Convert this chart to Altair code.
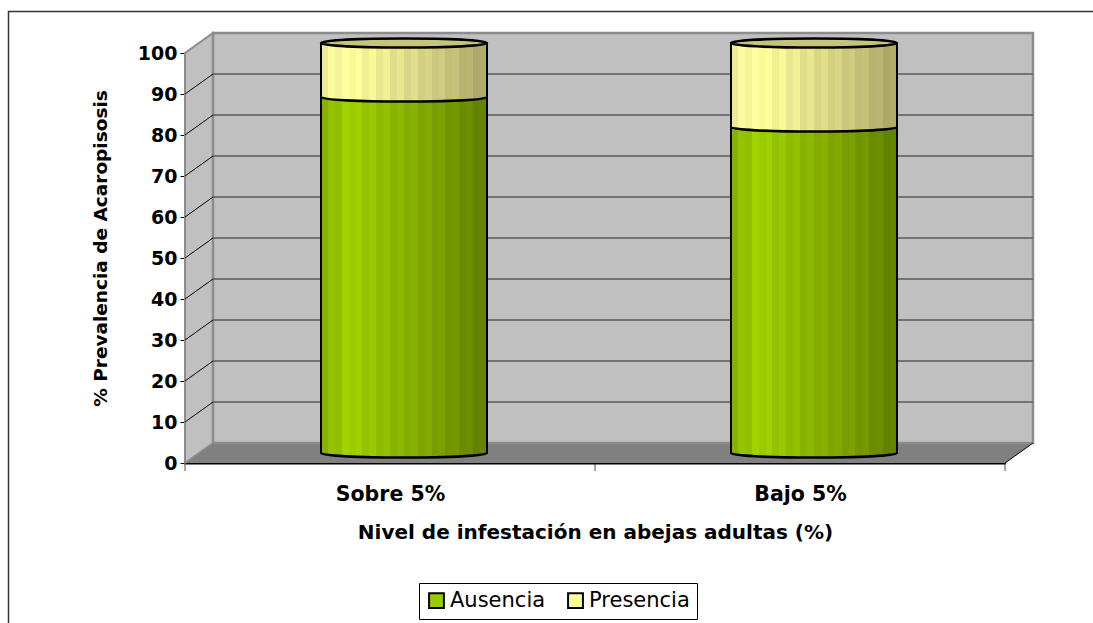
import altair as alt
import pandas as pd

# --- data -------------------------------------------------------------
categories = ["Sobre 5%", "Bajo 5%"]
series = ["Ausencia", "Presencia"]
ausencia = [86.8, 79.5]
presencia = [13.2, 20.5]
y_ticks = [0, 10, 20, 30, 40, 50, 60, 70, 80, 90, 100]

# --- layout constants (plot area = front plane of the 3-D box) ----------
W, H = 820, 410
PAD = {"left": 185, "top": 53, "right": 1093 - 185 - W, "bottom": 623 - 53 - H}
N = len(categories)
PX_X = W / N            # pixels per category unit
PX_Y = H / 100          # pixels per percent
DX = 28 / PX_X          # depth of the box, x units
DY = 20 / PX_Y          # depth of the box, y units
BAR_W = 166 / PX_X      # cylinder diameter, x units
SYM = (BAR_W * PX_X) ** 2   # symbol area giving the cylinder width
RY = 4.5 / (BAR_W * PX_X / 2)   # ellipse flattening

FONT = "DejaVu Sans"
GREEN, YELLOW = "#99cc00", "#ffff99"

x_scale = alt.Scale(domain=[0, N], nice=False, zero=False)
y_scale = alt.Scale(domain=[0, 100], nice=False, zero=False)

label_expr = " : ".join(
    [f"datum.value == {i + 0.5} ? '{c}'" for i, c in enumerate(categories)]) + " : ''"

AX = alt.Axis(values=[i + 0.5 for i in range(N)],
              title="Nivel de infestación en abejas adultas (%)",
              labelExpr=label_expr, ticks=False, grid=False,
              domainColor="black", domainWidth=2,
              labelFont=FONT, labelFontSize=20.5, labelFontWeight="bold", labelColor="black",
              labelBaseline="alphabetic", labelPadding=37, labelFlush=False, labelAngle=0,
              titleFont=FONT, titleFontSize=20, titleFontWeight="bold", titleColor="black",
              titleX=W / 2, titleY=75, titleBaseline="alphabetic", titleAnchor="middle")
AY = alt.Axis(values=y_ticks, title="% Prevalencia de Acaropisosis", grid=False,
              tickSize=5, tickColor="black", tickWidth=1,
              domainColor="black", domainWidth=1,
              labelFont=FONT, labelFontSize=19, labelFontWeight="bold", labelColor="black",
              labelPadding=3,
              titleFont=FONT, titleFontSize=18.5, titleFontWeight="bold", titleColor="black",
              titleX=-85, titleY=195, titleAngle=-90, titleBaseline="middle",
              titleAlign="center")


def X(f="x"):
    return alt.X(f"{f}:Q", scale=x_scale, axis=AX)


def Y(f="y"):
    return alt.Y(f"{f}:Q", scale=y_scale, axis=AY)


def _rgb(h):
    return [int(h[k:k + 2], 16) for k in (1, 3, 5)]


def _hex(c):
    return "#" + "".join(f"{max(0, min(255, round(v))):02x}" for v in c)


def _at(stops, t):
    for (o0, c0), (o1, c1) in zip(stops, stops[1:]):
        if o0 <= t <= o1:
            f = (t - o0) / (o1 - o0)
            a, b = _rgb(c0), _rgb(c1)
            return [a[k] + (b[k] - a[k]) * f for k in range(3)]
    return _rgb(stops[-1][1])


def banded(stops, bands=24, shade=0.035):
    """Horizontal shading split into flat vertical bands, like the classic 3-D cylinder fill."""
    out = []
    for j in range(bands):
        t0, t1 = j / bands, (j + 1) / bands
        c = _at(stops, (t0 + t1) / 2)
        k = 1 + (shade if j % 2 else -shade / 2)
        c = _hex([v * k for v in c])
        out.append(alt.GradientStop(offset=t0, color=c))
        out.append(alt.GradientStop(offset=t1, color=c))
    return alt.LinearGradient(gradient="linear", x1=0, x2=1, y1=0, y2=0, stops=out)


green_grad = banded([(0, "#86b000"), (0.17, "#9ed000"), (0.45, "#8ab400"),
                     (0.75, "#769a00"), (1, "#5e7e00")])
yellow_grad = banded([(0, "#ecec9a"), (0.17, "#ffff99"), (0.45, "#e2e28c"),
                      (0.75, "#c8c47a"), (1, "#a6a264")])

# --- cylinder table ------------------------------------------------------
rows = []
for i, cat in enumerate(categories):
    cx = i + 0.5 + DX / 2
    base = DY / 2
    a, p = ausencia[i], presencia[i]
    rows.append({"cat": cat, "series": series[0], "cx": cx,
                 "xl": cx - BAR_W / 2, "xr": cx + BAR_W / 2,
                 "y0": base, "y1": base + a})
    rows.append({"cat": cat, "series": series[1], "cx": cx,
                 "xl": cx - BAR_W / 2, "xr": cx + BAR_W / 2,
                 "y0": base + a, "y1": base + a + p})
bars = pd.DataFrame(rows)
green = bars[bars.series == series[0]]
yellow = bars[bars.series == series[1]]
tops = bars.groupby("cat", sort=False).agg(cx=("cx", "first"), top=("y1", "max")).reset_index()
sides = pd.concat([
    pd.DataFrame({"x": tops.cx - BAR_W / 2, "y0": DY / 2, "y1": tops.top}),
    pd.DataFrame({"x": tops.cx + BAR_W / 2, "y0": DY / 2, "y1": tops.top}),
])

# --- box geometry --------------------------------------------------------
left_wall = pd.DataFrame({"x": [0, DX], "y": [0, DY], "y2": [100, 100 + DY]})
floor = pd.DataFrame({"y": [0, DY], "x": [0, DX], "x2": [N, N + DX]})
back_wall = pd.DataFrame({"x": [DX], "x2": [N + DX], "y": [DY], "y2": [100 + DY]})
grid = pd.DataFrame({"x": DX, "x2": N + DX, "v": [v + DY for v in y_ticks[1:-1]]})
diag = pd.DataFrame({"x": 0.0, "x2": DX, "v0": y_ticks[1:-1], "v1": [v + DY for v in y_ticks[1:-1]]})
floor_edge = pd.DataFrame({"x": [N], "x2": [N + DX], "y": [0], "y2": [DY]})
x_ticks = pd.DataFrame({"x": [float(i) for i in range(N + 1)], "y": 0.0})

floor_l = alt.Chart(floor).mark_area(orient="horizontal", color="#808080").encode(
    y=Y("y"), x=X("x"), x2="x2:Q")
wall_l = alt.Chart(left_wall).mark_area(orient="vertical", color="#c0c0c0",
                                        stroke="#8c8c8c", strokeWidth=2).encode(
    x=X("x"), y=Y("y"), y2="y2:Q")
back_l = alt.Chart(back_wall).mark_rect(fill="#c0c0c0", stroke="#8c8c8c", strokeWidth=2.5).encode(
    x=X("x"), x2="x2:Q", y=Y("y"), y2="y2:Q")
grid_l = alt.Chart(grid).mark_rule(color="#5a5a5a", strokeWidth=1.5).encode(
    x=X("x"), x2="x2:Q", y=Y("v"))
diag_l = alt.Chart(diag).mark_rule(color="black", strokeWidth=1).encode(
    x=X("x"), x2="x2:Q", y=Y("v0"), y2="v1:Q")
edge_l = alt.Chart(floor_edge).mark_rule(color="black", strokeWidth=1).encode(
    x=X("x"), x2="x2:Q", y=Y("y"), y2="y2:Q")
xtick_l = alt.Chart(x_ticks).mark_tick(color="black", thickness=1, size=8, orient="vertical",
                                       yOffset=4).encode(x=X("x"), y=Y("y"))

# flat bars that carry the legend; the shaded cylinder is drawn on top
legend_l = alt.Chart(bars).mark_rect().encode(
    x=X("xl"), x2="xr:Q", y=Y("y0"), y2="y1:Q",
    color=alt.Color("series:N", scale=alt.Scale(domain=series, range=[GREEN, YELLOW]),
                    legend=alt.Legend(title=None, orient="none", direction="horizontal",
                                      legendX=234, legendY=530, symbolType="square", symbolSize=220,
                                      symbolStrokeColor="black", symbolStrokeWidth=2,
                                      symbolOpacity=1, labelFont=FONT, labelFontSize=21,
                                      labelColor="black", columnPadding=18, labelOffset=3,
                                      strokeColor="black", padding=7, cornerRadius=0)),
)

half = "M-1,0 A1,{r} 0 0 0 1,0 Z".format(r=RY)
arc = "M-1,0 A1,{r} 0 0 0 1,0".format(r=RY)
full = "M-1,0 A1,{r} 0 1 1 1,0 A1,{r} 0 1 1 -1,0 Z".format(r=RY)


def cyl(df, fill):
    body = alt.Chart(df).mark_rect(fill=fill, strokeWidth=0).encode(
        x=X("xl"), x2="xr:Q", y=Y("y0"), y2="y1:Q")
    bottom = alt.Chart(df).mark_point(shape=half, size=SYM, filled=True, fill=fill,
                                      strokeWidth=0, opacity=1).encode(x=X("cx"), y=Y("y0"))
    rim = alt.Chart(df).mark_point(shape=arc, size=SYM, filled=False, stroke="black",
                                   strokeWidth=2.5, opacity=1).encode(x=X("cx"), y=Y("y0"))
    return [body, bottom, rim]


side_l = alt.Chart(sides).mark_rule(color="black", strokeWidth=2).encode(
    x=X("x"), y=Y("y0"), y2="y1:Q")
top_l = alt.Chart(tops).mark_point(shape=full, size=SYM, filled=True, fill="#c6c47c",
                                   stroke="black", strokeWidth=2.5, opacity=1).encode(
    x=X("cx"), y=Y("top"))

frame_l = alt.Chart(pd.DataFrame({"k": [0]})).mark_rect(
    fillOpacity=0, stroke="#333333", strokeWidth=1.5).encode(
    x=alt.value(8.5 - PAD["left"]), x2=alt.value(1200),
    y=alt.value(11.5 - PAD["top"]), y2=alt.value(700))

chart = alt.layer(
    floor_l, wall_l, back_l, grid_l, diag_l, edge_l, xtick_l, legend_l,
    *cyl(green, green_grad), *cyl(yellow, yellow_grad), side_l, top_l, frame_l,
).properties(
    width=W, height=H,
    autosize=alt.AutoSizeParams(type="none"),
    padding=PAD,
).configure_view(stroke=None).configure(background="white")

chart.save("out.html", embed_options={"renderer": "svg", "actions": False})
